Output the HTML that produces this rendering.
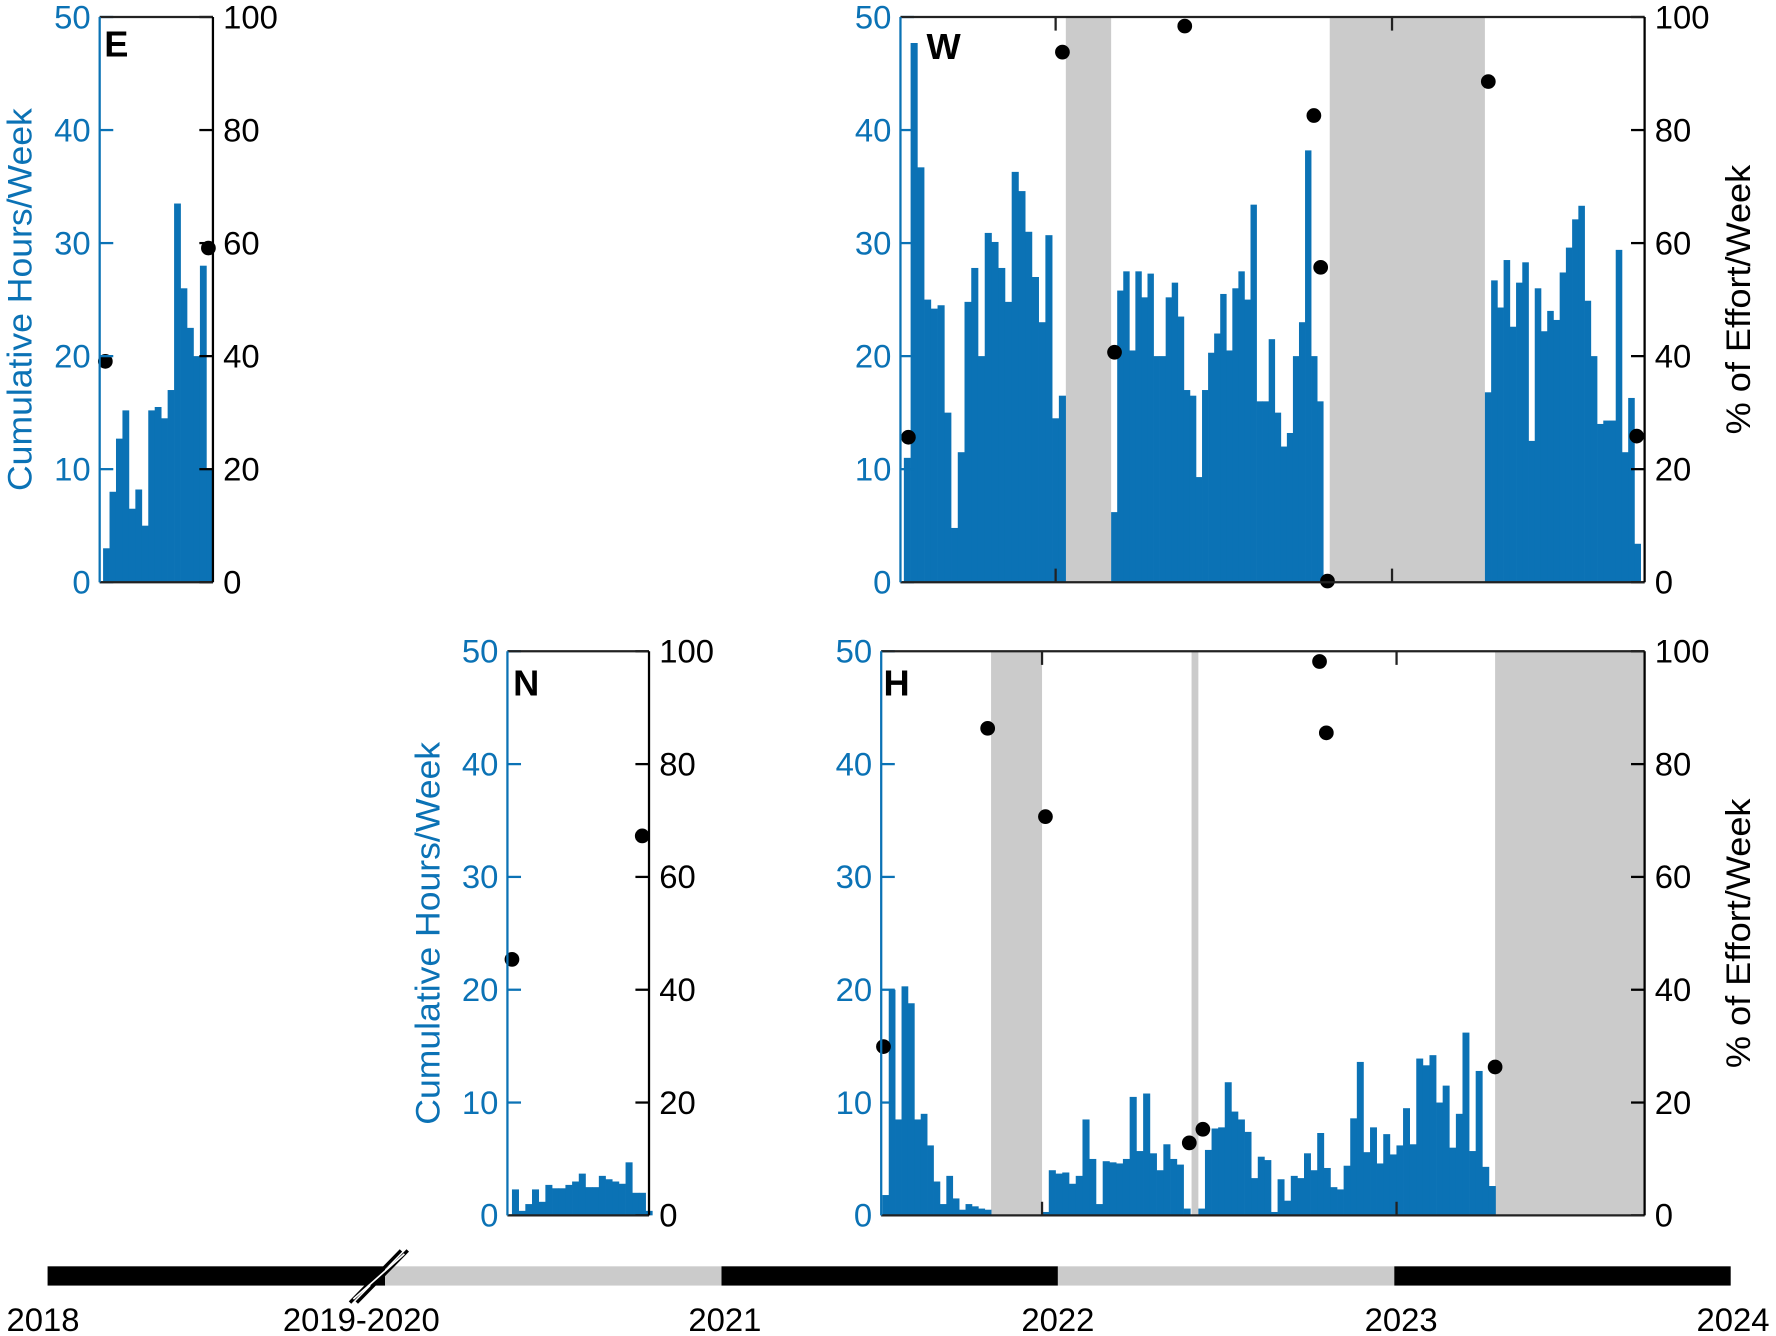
<!DOCTYPE html>
<html><head><meta charset="utf-8">
<style>
html,body{margin:0;padding:0;background:#fff;}
svg{display:block;}
text{font-family:"Liberation Sans",sans-serif;}
</style></head>
<body>
<svg id="s" xmlns="http://www.w3.org/2000/svg" width="1776" height="1336" viewBox="0 0 1568 1179.5">
</svg>
<script>
const NS="http://www.w3.org/2000/svg";
const s=document.getElementById('s');
let html='';
const B='#0b72b5';
function yv(v,top,bot){return bot-(v/50)*(bot-top);}
function bars(x0,w,vals,top,bot){
  vals.forEach((v,i)=>{ if(v<=0) return; const y=yv(v,top,bot);
    html+=`<rect x="${(x0+i*w).toFixed(2)}" y="${y.toFixed(2)}" width="${(w+0.3).toFixed(2)}" height="${(bot-y).toFixed(2)}" fill="${B}"/>`;});
}
function gray(x1,x2,top,bot){html+=`<rect x="${x1}" y="${top}" width="${x2-x1}" height="${bot-top}" fill="#cbcbcb"/>`;}
function dots(arr){arr.forEach(d=>html+=`<circle cx="${d[0]}" cy="${d[1]}" r="6.5" fill="#000"/>`);}
function frame(l,r,top,bot,letter,lx,ly,years,showLeftLabel,showRightLabel,leftLblX,rightLblX){
  for(let i=0;i<=5;i++){
    const y=top+(bot-top)*i/5;
    html+=`<line x1="${l}" x2="${l+12}" y1="${y}" y2="${y}" stroke="${B}" stroke-width="2"/>`;
    html+=`<line x1="${r-12}" x2="${r}" y1="${y}" y2="${y}" stroke="#000" stroke-width="2"/>`;
    html+=`<text x="${l-8}" y="${y+10}" font-size="29" fill="${B}" text-anchor="end">${50-10*i}</text>`;
    html+=`<text x="${r+9}" y="${y+10}" font-size="29" fill="#000">${100-20*i}</text>`;
  }
  years.forEach(x=>{
    html+=`<line x1="${x}" x2="${x}" y1="${top}" y2="${top+12}" stroke="#222" stroke-width="2"/>`;
    html+=`<line x1="${x}" x2="${x}" y1="${bot-12}" y2="${bot}" stroke="#222" stroke-width="2"/>`;
  });
  html+=`<line x1="${l}" x2="${r}" y1="${top}" y2="${top}" stroke="#222" stroke-width="2"/>`;
  html+=`<line x1="${l}" x2="${r}" y1="${bot}" y2="${bot}" stroke="#222" stroke-width="2"/>`;
  html+=`<line x1="${r}" x2="${r}" y1="${top}" y2="${bot}" stroke="#000" stroke-width="2"/>`;
  html+=`<line x1="${l}" x2="${l}" y1="${top}" y2="${bot}" stroke="${B}" stroke-width="2"/>`;
  html+=`<text x="${lx}" y="${ly}" font-size="32" font-weight="bold" fill="#000">${letter}</text>`;
  const cy=(top+bot)/2;
  if(showLeftLabel) html+=`<text transform="translate(${leftLblX},${cy}) rotate(-90)" font-size="30" fill="${B}" text-anchor="middle" textLength="338" lengthAdjust="spacingAndGlyphs">Cumulative Hours/Week</text>`;
  if(showRightLabel) html+=`<text transform="translate(${rightLblX},${cy}) rotate(-90)" font-size="30" fill="#000" text-anchor="middle" textLength="238" lengthAdjust="spacingAndGlyphs">% of Effort/Week</text>`;
}
// Panel E
bars(91,5.7,[3,8,12.7,15.2,6.5,8.2,5,15.2,15.5,14.5,17,33.5,26,22.5,20,28,10],15,514);
dots([[93,319],[184,219]]);
frame(88,188,15,514,'E',92,50,[],true,false,28,0);
// Panel W
gray(941,981,15,514); gray(1174,1311,15,514);
bars(798,5.95,[11,47.7,36.7,25,24.2,24.5,15,4.8,11.5,24.8,27.8,20,30.9,30.1,27.8,24.8,36.3,34.6,31,27,23,30.7,14.5,16.5],15,514);
bars(981,5.35,[6.2,25.8,27.5,20.5,27.5,25.2,27.3,20,20,25.2,26.5,23.5,17,16.5,9.3,17,20.3,22,25.5,20.5,26,27.5,25,33.4,16,16,21.5,15,12,13.2,20,23,38.2,20,16],15,514);
bars(1311,5.5,[16.8,26.7,24.3,28.5,22.6,26.5,28.3,12.5,26,22.2,24,23.2,27.4,29.6,32.1,33.3,24.9,20,14,14.3,14.3,29.4,11.5,16.3,3.4],15,514);
dots([[802,386],[938,46],[984,311],[1046,23],[1160,102],[1166,236],[1172,513],[1314,72],[1445,385]]);
frame(795,1452,15,514,'W',818,52,[932,1229],false,true,0,1545);
// Panel N
bars(452,5.9,[2.3,0.4,1,2.3,1.2,2.7,2.4,2.4,2.7,3,3.7,2.5,2.5,3.5,3.2,3,2.8,4.7,2,2,0.4],575,1073);
dots([[452,847],[567,738]]);
frame(448,573,575,1073,'N',453,614,[],true,false,388,0);
// Panel H
gray(875,920,575,1073); gray(1052,1058,575,1073); gray(1320,1452,575,1073);
bars(779,5.65,[1.8,20,8.5,20.3,18.8,8.5,9,6.2,3,1,3.5,1.5,0.5,1,0.8,0.6,0.5],575,1073);
bars(920,5.95,[0.3,4,3.7,3.8,2.8,3.5,8.5,5,1,4.8,4.7,4.6,5,10.5,5.7,10.8,5.5,4,6.3,5,4.5,0.6],575,1073);
bars(1058,5.83,[0.6,5.8,7.7,7.8,11.8,9.2,8.5,7.4,3.3,5.2,4.9,0.3,3.2,1.3,3.5,3.3,5.5,4,7.3,4.2,2.5,2.3,4.4,8.6,13.6,5.6,7.8,4.6,7.2,5.4,6.2,9.5,6.3,13.9,13.3,14.2,10,11.5,6,9,16.2,5.7,12.8,4.3,2.6],575,1073);
dots([[780,924],[872,643],[923,721],[1165,584],[1171,647],[1050,1009],[1062,997],[1320,942]]);
frame(778,1452,575,1073,'H',780,614,[920,1233],false,true,0,1545);
// Timeline
html+=`<rect x="42" y="1118" width="298" height="17" fill="#000"/>`;
html+=`<rect x="340" y="1118" width="297" height="17" fill="#cbcbcb"/>`;
html+=`<rect x="637" y="1118" width="297" height="17" fill="#000"/>`;
html+=`<rect x="934" y="1118" width="297" height="17" fill="#cbcbcb"/>`;
html+=`<rect x="1231" y="1118" width="297" height="17" fill="#000"/>`;
html+=`<line x1="309" y1="1150" x2="354" y2="1104" stroke="#000" stroke-width="3"/>`;
html+=`<line x1="315" y1="1150" x2="360" y2="1104" stroke="#000" stroke-width="3"/>`;
html+=`<line x1="312" y1="1147" x2="357" y2="1107" stroke="#fff" stroke-width="1.5"/>`;
[[38,'2018'],[319,'2019-2020'],[640,'2021'],[934,'2022'],[1237,'2023'],[1530,'2024']].forEach(t=>{
  html+=`<text x="${t[0]}" y="1175" font-size="29" fill="#000" text-anchor="middle">${t[1]}</text>`;
});
s.innerHTML=html;
</script>
</body></html>
